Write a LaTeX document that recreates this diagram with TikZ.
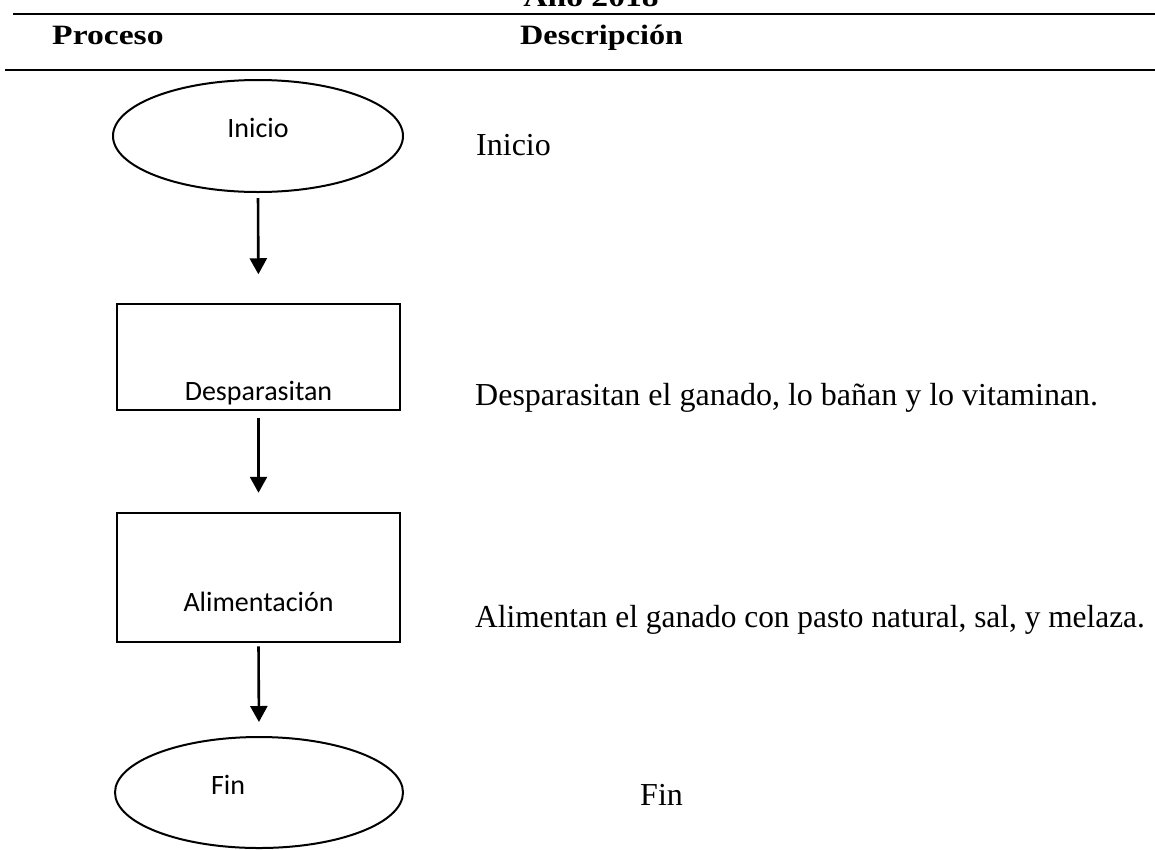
\documentclass[tikz,border=0pt]{standalone}
\usepackage{fontspec}
\setmainfont{Liberation Serif}
\newfontfamily\calib{Carlito}
\usetikzlibrary{shapes.geometric,arrows.meta}
\tikzset{
  term/.style={draw, ellipse, line width=2pt, inner sep=0pt},
  procbox/.style={draw, rectangle, inner sep=0pt},
  sanslbl/.style={inner sep=0pt, font=\calib\fontsize{28}{30}\selectfont},
  hdr/.style={inner sep=0pt, anchor=base west, font=\bfseries\fontsize{28}{30}\selectfont},
  desc/.style={inner sep=0pt, anchor=base west, font=\fontsize{32}{35}\selectfont},
  rule/.style={line width=2pt},
  flow/.style={line width=2.6pt, -{Triangle[length=16pt,width=17pt]}},
}
\begin{document}
\begin{tikzpicture}[x=1pt,y=-1pt]
\useasboundingbox (0,0) rectangle (1155,849);
% title (cut at top)
\node[inner sep=0pt, anchor=base, xscale=1.2, font=\bfseries\fontsize{28}{30}\selectfont] (title) at (591,6) {Año 2018};
\coordinate (r1a) at (13,14); \coordinate (r1b) at (1155,14);
\coordinate (r2a) at (5,70); \coordinate (r2b) at (1155,70);
\draw[rule] (r1a) -- (r1b);
\draw[rule] (r2a) -- (r2b);
\node[hdr, xscale=1.2] (hp) at (52,44) {Proceso};
\node[hdr, xscale=1.15] (hd) at (520,44) {Descripción};
% shapes
\node[term, minimum width=290pt, minimum height=112pt] (ini) at (258,136) {};
\node[sanslbl] (iniT) at (258,128) {Inicio};
\node[procbox, line width=1.5pt, minimum width=283pt, minimum height=106pt] (des) at (258.5,357) {};
\node[sanslbl, anchor=base] (desT) at (258.5,400) {Desparasitan};
\node[procbox, line width=2.5pt, minimum width=283pt, minimum height=129pt] (ali) at (258.5,577.5) {};
\node[sanslbl] (aliT) at (258.5,602) {Alimentación};
\node[term, minimum width=288pt, minimum height=111pt] (fin) at (259,792.5) {};
\node[sanslbl] (finT) at (228,785) {Fin};
% arrows
\draw[flow, shorten <=5pt, shorten >=29pt] (ini.south) -- (des.north);
\draw[flow, shorten <=7pt, shorten >=19pt] (des.south) -- (ali.north);
\draw[flow, shorten <=3pt, shorten >=14pt] (ali.south) -- (fin.north);
% descriptions
\node[desc] (d1) at (476,155) {Inicio};
\node[desc] (d2) at (475,405) {Desparasitan el ganado, lo bañan y lo vitaminan.};
\node[desc, xscale=0.98] (d3) at (475,627) {Alimentan el ganado con pasto natural, sal, y melaza.};
\node[desc] (d4) at (640,805) {Fin};
\end{tikzpicture}
\end{document}
